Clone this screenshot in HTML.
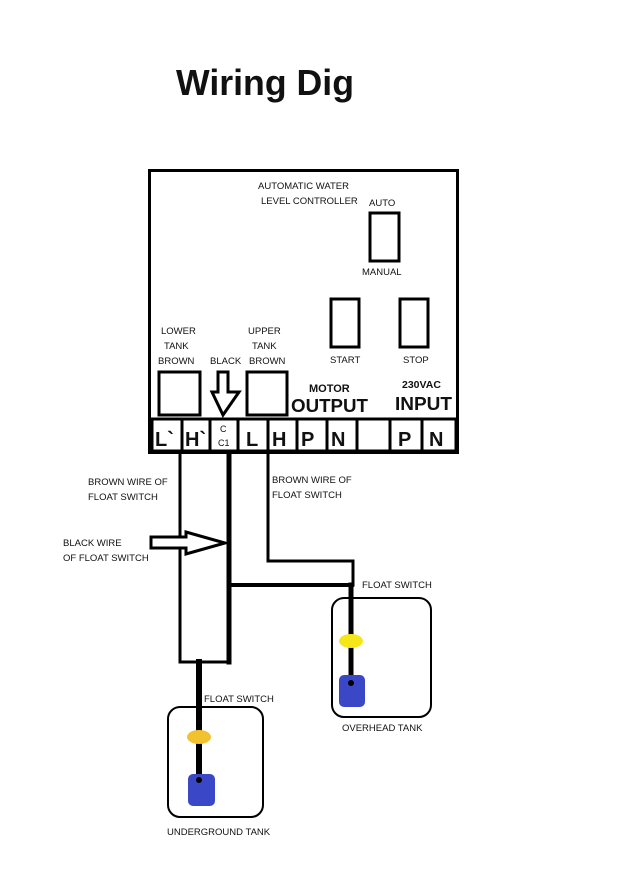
<!DOCTYPE html>
<html><head><meta charset="utf-8"><style>
body{margin:0;background:#fff}
svg{display:block}
text{font-family:"Liberation Sans",sans-serif;fill:#111}
.s{font-size:9.5px}
.t{font-size:20px;font-weight:bold}
</style></head><body>
<svg width="640" height="879" viewBox="0 0 640 879" xmlns="http://www.w3.org/2000/svg">
<text x="176" y="95" font-size="36" font-weight="bold" textLength="178" lengthAdjust="spacingAndGlyphs">Wiring Dig</text>
<rect x="149.5" y="170.5" width="308" height="282" fill="none" stroke="#000" stroke-width="3"/>
<text class="s" x="258" y="189">AUTOMATIC WATER</text>
<text class="s" x="261" y="204">LEVEL CONTROLLER</text>
<text class="s" x="369" y="206">AUTO</text>
<rect x="370" y="213" width="29" height="48" fill="none" stroke="#000" stroke-width="3"/>
<text class="s" x="362" y="275">MANUAL</text>
<rect x="331" y="299" width="28" height="48" fill="none" stroke="#000" stroke-width="3"/>
<rect x="400" y="299" width="28" height="48" fill="none" stroke="#000" stroke-width="3"/>
<text class="s" x="330" y="363">START</text>
<text class="s" x="403" y="363">STOP</text>
<text class="s" x="161" y="334">LOWER</text>
<text class="s" x="164" y="349">TANK</text>
<text class="s" x="158" y="364">BROWN</text>
<text class="s" x="210" y="364">BLACK</text>
<text class="s" x="248" y="334">UPPER</text>
<text class="s" x="252" y="349">TANK</text>
<text class="s" x="249" y="364">BROWN</text>
<rect x="159" y="372" width="41" height="43" fill="none" stroke="#000" stroke-width="3"/>
<rect x="247" y="372" width="40" height="43" fill="none" stroke="#000" stroke-width="3"/>
<polygon points="218,372 228,372 228,392 239,392 223,415 212,392 218,392" fill="#fff" stroke="#000" stroke-width="3"/>
<text x="309" y="392" font-size="11" font-weight="bold">MOTOR</text>
<text x="291" y="412" font-size="18" font-weight="bold" textLength="77" lengthAdjust="spacingAndGlyphs">OUTPUT</text>
<text x="402" y="388" font-size="10.5" font-weight="bold">230VAC</text>
<text x="395" y="410" font-size="18" font-weight="bold" textLength="57" lengthAdjust="spacingAndGlyphs">INPUT</text>
<g fill="none" stroke="#000" stroke-width="3">
<rect x="152" y="419" width="304" height="32"/>
<line x1="182" y1="419" x2="182" y2="451"/><line x1="210" y1="419" x2="210" y2="451"/>
<line x1="238" y1="419" x2="238" y2="451"/><line x1="268" y1="419" x2="268" y2="451"/>
<line x1="297" y1="419" x2="297" y2="451"/><line x1="327" y1="419" x2="327" y2="451"/>
<line x1="357" y1="419" x2="357" y2="451"/><line x1="390" y1="419" x2="390" y2="451"/>
<line x1="422" y1="419" x2="422" y2="451"/>
</g>
<text class="t" x="155" y="446">L`</text>
<text class="t" x="185" y="446">H`</text>
<text x="220" y="432" font-size="9">C</text>
<text x="218" y="446" font-size="9">C1</text>
<text class="t" x="246" y="446">L</text>
<text class="t" x="272" y="446">H</text>
<text class="t" x="301" y="446">P</text>
<text class="t" x="331" y="446">N</text>
<text class="t" x="398" y="446">P</text>
<text class="t" x="429" y="446">N</text>
<g fill="none" stroke="#000" stroke-linecap="square">
<polyline points="180,452 180,662 229,662" stroke-width="3"/>
<line x1="229" y1="452" x2="229" y2="662" stroke-width="5"/>
<polyline points="229,585 352,585" stroke-width="4"/>
<polyline points="268,452 268,561 353,561 353,585" stroke-width="3"/>
<line x1="351" y1="585" x2="351" y2="690" stroke-width="5"/>
<line x1="199" y1="662" x2="199" y2="785" stroke-width="6"/>
</g>
<polygon points="151,537 186,537 186,532 225,543 186,554 186,548 151,548" fill="#fff" stroke="#000" stroke-width="3"/>
<text class="s" x="88" y="485">BROWN WIRE OF</text>
<text class="s" x="88" y="500">FLOAT SWITCH</text>
<text class="s" x="272" y="483">BROWN WIRE OF</text>
<text class="s" x="272" y="498">FLOAT SWITCH</text>
<text class="s" x="63" y="546">BLACK WIRE</text>
<text class="s" x="63" y="561">OF FLOAT SWITCH</text>
<text class="s" x="362" y="588">FLOAT SWITCH</text>
<rect x="332" y="598" width="99" height="119" rx="12" fill="none" stroke="#000" stroke-width="2"/>
<ellipse cx="351" cy="641" rx="12" ry="7" fill="#f5e61a"/>
<rect x="339" y="675" width="26" height="32" rx="5" fill="#3a48c8"/>
<circle cx="351" cy="683" r="3" fill="#000"/>
<text class="s" x="342" y="731">OVERHEAD TANK</text>
<text class="s" x="204" y="702">FLOAT SWITCH</text>
<rect x="168" y="707" width="95" height="110" rx="12" fill="none" stroke="#000" stroke-width="2"/>
<ellipse cx="199" cy="737" rx="12" ry="7" fill="#f2c12e"/>
<rect x="188" y="774" width="27" height="32" rx="5" fill="#3a48c8"/>
<circle cx="199" cy="780" r="3" fill="#000"/>
<text class="s" x="167" y="835">UNDERGROUND TANK</text>
</svg>
</body></html>
